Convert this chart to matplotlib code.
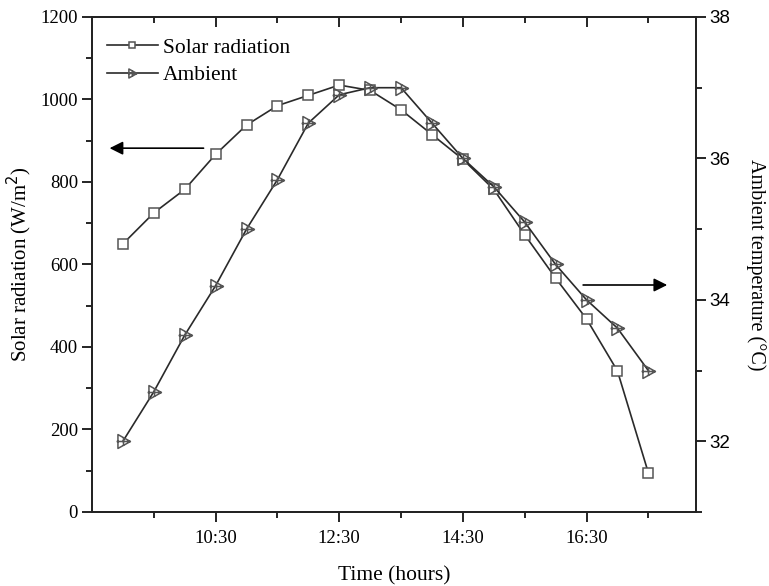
import matplotlib
matplotlib.use('Agg')
import matplotlib.pyplot as plt
from matplotlib.path import Path
from matplotlib.ticker import MultipleLocator, FixedLocator

# ── Data ──────────────────────────────────────────────────────────────────────
hours = [9.0, 9.5, 10.0, 10.5, 11.0, 11.5, 12.0, 12.5, 13.0,
         13.5, 14.0, 14.5, 15.0, 15.5, 16.0, 16.5, 17.0, 17.5]
solar = [650, 725, 782, 867, 938, 985, 1010, 1035, 1022,
         975, 915, 855, 782, 672, 567, 468, 342, 95]
ambient = [32.0, 32.7, 33.5, 34.2, 35.0, 35.7, 36.5, 36.9, 37.0,
           37.0, 36.5, 36.0, 35.6, 35.1, 34.5, 34.0, 33.6, 33.0]
tick_hours = [10.5, 12.5, 14.5, 16.5]
tick_labels = ["10:30", "12:30", "14:30", "16:30"]

SERIF = "Liberation Serif"
SANS = "Liberation Sans"
LINE = "#2a2a2a"
MARK = "#555555"

# triangle with a cross, like the Origin marker
tri_marker = Path(
    [(-0.8, -1), (1, 0), (-0.8, 1), (-0.8, -1), (-1.0, 0), (1.0, 0), (0, -0.6), (0, 0.6)],
    [Path.MOVETO, Path.LINETO, Path.LINETO, Path.CLOSEPOLY,
     Path.MOVETO, Path.LINETO, Path.MOVETO, Path.LINETO])

fig = plt.figure(figsize=(7.69, 5.86), dpi=100)
ax = fig.add_axes([0.1196, 0.1263, 0.7854, 0.8447])
ax2 = ax.twinx()

l1, = ax.plot(hours, solar, color=LINE, lw=1.2, marker="s", ms=7.5,
              mfc="white", mec=MARK, mew=1.1, label="Solar radiation", zorder=3)
l2, = ax2.plot(hours, ambient, color=LINE, lw=1.2, marker=tri_marker, ms=10,
               mfc="none", mec=MARK, mew=1.1, label="Ambient", zorder=3)

ax.set_xlim(8.5, 18.27)
ax.set_ylim(0, 1200)
ax2.set_ylim(31, 38)

ax.xaxis.set_major_locator(FixedLocator(tick_hours))
ax.set_xticklabels(tick_labels, fontfamily=SERIF, fontsize=13.5)
ax.xaxis.set_minor_locator(FixedLocator([9.5, 11.5, 13.5, 15.5, 17.5]))
ax.yaxis.set_major_locator(MultipleLocator(200))
ax.yaxis.set_minor_locator(MultipleLocator(100))
ax2.yaxis.set_major_locator(FixedLocator([32, 34, 36, 38]))
ax2.yaxis.set_minor_locator(MultipleLocator(1))

for lab in ax.get_yticklabels():
    lab.set_fontfamily(SERIF)
    lab.set_fontsize(13.5)
for lab in ax2.get_yticklabels():
    lab.set_fontfamily(SANS)
    lab.set_fontsize(13.5)

ax.tick_params(axis="x", which="major", direction="out", length=7, width=1.2, pad=6,
               top=True)
ax.tick_params(axis="x", which="minor", direction="out", length=4, width=1.2, top=True)
ax.tick_params(axis="y", which="major", direction="out", length=7, width=1.2, pad=3)
ax.tick_params(axis="y", which="minor", direction="out", length=4, width=1.2)
ax2.tick_params(axis="y", which="major", direction="out", length=7, width=1.2, pad=3)
ax2.tick_params(axis="y", which="minor", direction="out", length=4, width=1.2)
# top ticks point inward
for t in ax.xaxis.get_major_ticks() + ax.xaxis.get_minor_ticks():
    t.tick2line.set_marker(matplotlib.markers.TICKDOWN)

for a in (ax, ax2):
    for s in a.spines.values():
        s.set_linewidth(1.3)
        s.set_color("#222222")

ax.set_xlabel("Time (hours)", fontfamily=SERIF, fontsize=15.5, labelpad=14)
ax.set_ylabel("Solar radiation (W/m$^2$)", fontfamily=SERIF, fontsize=15, labelpad=5)
ax2.set_ylabel("Ambient temperature (°C)", fontfamily=SERIF, fontsize=14.5,
               rotation=270, labelpad=25)

leg = ax.legend(handles=[l1, l2], loc="upper left", bbox_to_anchor=(0.0106, 0.976),
                frameon=False, prop={"family": SERIF, "size": 15.5},
                handlelength=2.37, handletextpad=0.23, borderaxespad=0,
                labelspacing=0.35, markerscale=0.65)

# direction arrows
ax.annotate("", xy=(8.74, 882), xytext=(10.35, 882),
            arrowprops=dict(arrowstyle="-|>", color="black", lw=1.2,
                            mutation_scale=20))
ax2.annotate("", xy=(17.85, 34.21), xytext=(16.4, 34.21),
             arrowprops=dict(arrowstyle="-|>", color="black", lw=1.2,
                             mutation_scale=20))

fig.savefig("out.png", dpi=100)
